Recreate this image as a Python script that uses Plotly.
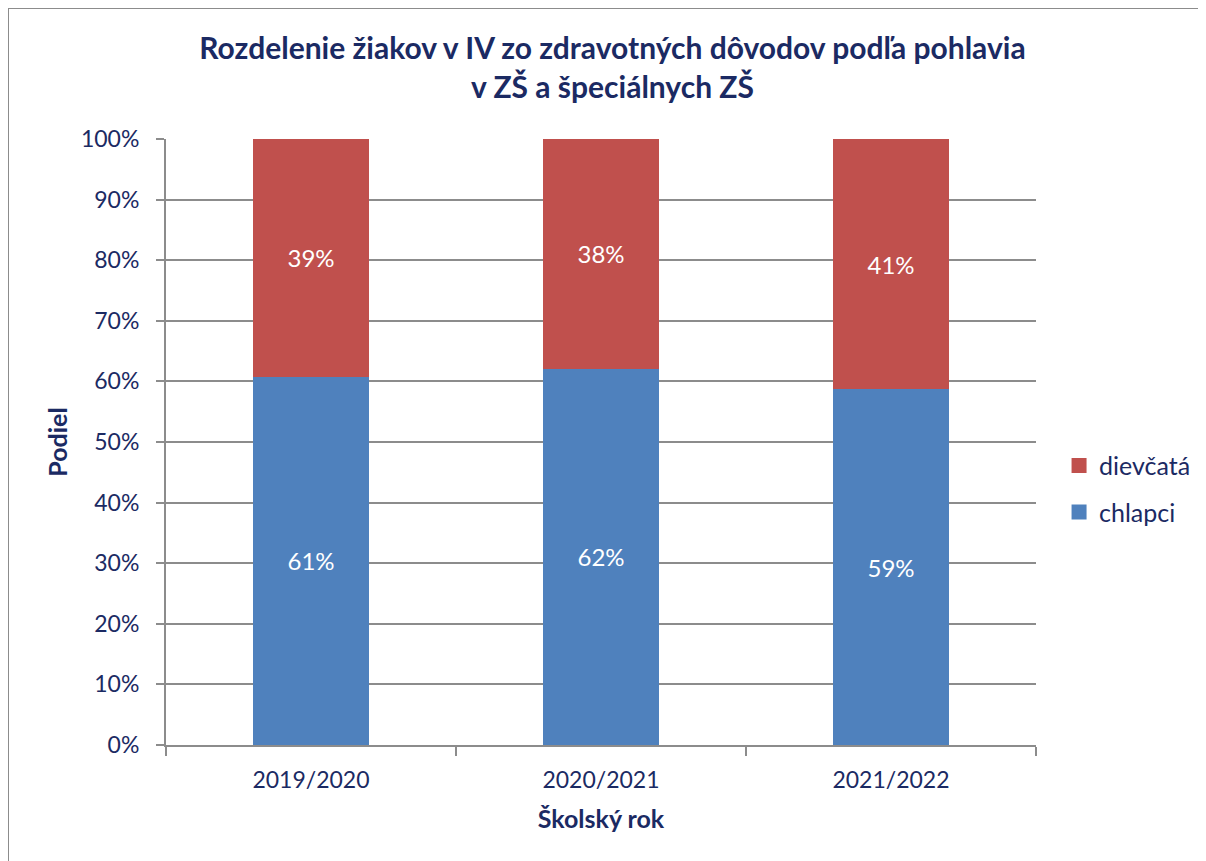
import plotly.graph_objects as go

years = ["2019/2020", "2020/2021", "2021/2022"]
chlapci = [0.608, 0.621, 0.587]
dievcata = [0.392, 0.379, 0.413]
series_names = ["chlapci", "dievčatá"]
series_colors = ["#4f81bd", "#c0504d"]
title_lines = ["Rozdelenie žiakov v IV zo zdravotných dôvodov podľa pohlavia", "v ZŠ a špeciálnych ZŠ"]
x_title = "Školský rok"
y_title = "Podiel"

NAVY = "#1b2a63"
GRID = "#8c8c8c"
FONT = "Lato"

# page body adds an 8px margin; figure is offset by 8px
W, H = 1198, 853
ML, MR, MT, MB = 158, 170, 131, 116
PW, PH = W - ML - MR, H - MT - MB

fig = go.Figure()
for name, vals, col, grp in [(series_names[0], chlapci, series_colors[0], "a"),
                             (series_names[1], dievcata, series_colors[1], "b")]:
    fig.add_trace(go.Bar(
        x=years, y=vals, name=name, marker_color=col,
        marker_line_width=0, texttemplate="%{y:.0%}", textposition="inside",
        insidetextanchor="middle", textfont=dict(color="white", size=24, family=FONT),
        showlegend=False, legendgroup=grp))
# legend entries with larger square swatches (top-to-bottom: dievčatá, chlapci)
for name, col, grp in [(series_names[1], series_colors[1], "b"),
                       (series_names[0], series_colors[0], "a")]:
    fig.add_trace(go.Scatter(
        x=[None], y=[None], mode="markers", name=name, legendgroup=grp,
        marker=dict(symbol="square", size=15, color=col), showlegend=True))


def px_x(px):
    return (px - ML) / PW


def px_y(py):
    return (H - MB - py) / PH


fig.update_layout(
    width=W, height=H,
    margin=dict(l=ML, r=MR, t=MT, b=MB, autoexpand=False),
    paper_bgcolor="white", plot_bgcolor="white",
    barmode="stack", bargap=0.6,
    font=dict(family=FONT, color=NAVY, size=22),
    title=dict(text="<br>".join("<b>" + t + "</b>" for t in title_lines),
               x=604.5 / W, xanchor="center", y=1 - 51 / H, yanchor="middle",
               yref="container", font=dict(size=30, color=NAVY, family=FONT)),
    legend=dict(x=1.0265, xanchor="left", y=0.423, yanchor="middle",
                traceorder="grouped", tracegroupgap=11, itemwidth=30,
                font=dict(size=25, color=NAVY, family=FONT)),
    xaxis=dict(showline=True, linecolor=GRID, linewidth=2,
               ticks="outside", tickson="boundaries", ticklen=9, tickwidth=2,
               tickcolor=GRID, tickfont=dict(size=23, color=NAVY),
               ticklabelstandoff=13,
               title=dict(text="<b>" + x_title + "</b>", font=dict(size=25, color=NAVY), standoff=19)),
    yaxis=dict(range=[0, 1], dtick=0.1, tickformat=".0%",
               showline=True, linecolor=GRID, linewidth=2,
               showgrid=True, gridcolor=GRID, gridwidth=1.5,
               ticks="outside", ticklen=8, tickwidth=2, tickcolor=GRID,
               ticklabelstandoff=12,
               tickfont=dict(size=23, color=NAVY),
               title=dict(text="<b>" + y_title + "</b>", font=dict(size=25, color=NAVY), standoff=6)),
    showlegend=True,
)

fig.add_shape(type="rect", xref="paper", yref="paper",
              x0=px_x(0), y0=px_y(H + 20), x1=px_x(W + 20), y1=px_y(0),
              line=dict(color=GRID, width=2), fillcolor="rgba(0,0,0,0)", layer="below")

fig.write_html("out.html")
